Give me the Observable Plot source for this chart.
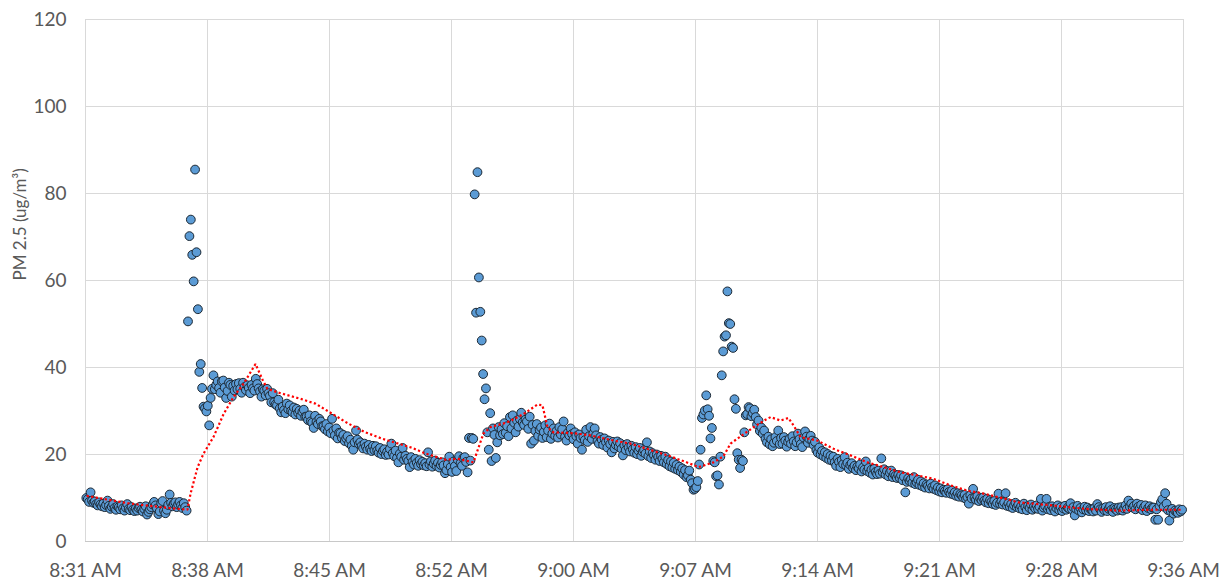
<!DOCTYPE html>
<html><head><meta charset="utf-8">
<script src="https://cdn.jsdelivr.net/npm/d3@7"></script>
<script src="https://cdn.jsdelivr.net/npm/@observablehq/plot@0.6"></script>
<style>
body{margin:0;background:#fff;}
#chart svg{display:block}
</style></head><body><div id="chart"></div>
<script>
// PM2.5 readings every 5 seconds starting at 8:31:15
const startTime = "8:31:15";
const stepSeconds = 5;
const pm25 = [
10.0, 9.7, 9.1, 11.3, 9.4, 8.9, 9.2, 8.6, 8.3, 9.0, 8.5, 8.1,
8.7, 7.9, 8.4, 9.4, 8.2, 7.5, 8.0, 8.6, 7.7, 7.3, 8.1, 7.9,
7.4, 8.3, 7.6, 7.1, 7.8, 8.6, 7.5, 7.2, 7.9, 7.3, 7.0, 7.6,
7.1, 7.7, 8.0, 7.3, 6.9, 7.5, 8.1, 6.2, 6.8, 7.4, 7.9, 8.5,
9.1, 8.3, 7.6, 6.3, 6.9, 8.8, 9.3, 7.1, 6.5, 7.3, 8.4, 10.8,
8.9, 8.1, 8.7, 9.0, 7.9, 8.5, 9.1, 8.3, 7.7, 8.8, 7.9, 7.1,
50.6, 70.2, 74.0, 65.9, 59.8, 85.5, 66.5, 53.4, 39.0, 40.8, 35.3, 31.0,
30.6, 29.9, 31.2, 26.7, 33.0, 35.1, 38.2, 35.0, 36.0, 36.8, 35.3, 34.2,
36.8, 37.0, 35.4, 33.0, 34.6, 36.5, 36.0, 33.3, 35.8, 34.7, 36.2, 35.0,
36.4, 35.1, 34.2, 36.5, 35.5, 34.8, 35.9, 35.3, 34.1, 36.0, 35.2, 34.7,
37.4, 36.2, 35.2, 34.5, 33.3, 35.0, 34.7, 33.6, 35.1, 34.1, 33.5, 32.0,
34.1, 32.0, 31.5, 31.3, 32.6, 30.6, 29.7, 31.0, 30.2, 29.5, 31.7, 30.4,
31.3, 30.0, 29.7, 30.8, 29.2, 30.5, 29.6, 30.1, 28.9, 29.8, 30.3, 28.7,
28.7, 27.9, 29.0, 27.6, 27.3, 26.1, 28.9, 27.5, 27.0, 28.2, 27.6, 26.5,
26.5, 25.8, 27.0, 25.3, 26.2, 24.9, 28.2, 25.5, 24.4, 26.0, 23.7, 25.0,
24.9, 23.8, 24.5, 23.1, 23.7, 24.2, 22.6, 23.4, 22.0, 21.1, 22.8, 25.5,
23.4, 22.4, 22.8, 22.0, 21.4, 22.5, 21.8, 21.1, 22.2, 21.3, 20.8, 22.0,
21.0, 21.9, 20.9, 20.4, 21.5, 20.1, 20.8, 21.2, 19.9, 20.6, 20.0, 21.3,
22.5, 20.3, 19.6, 20.9, 19.2, 18.2, 20.2, 19.5, 21.5, 18.8, 19.7, 19.0,
18.5, 17.1, 19.4, 18.3, 17.7, 19.0, 18.1, 17.4, 18.7, 17.8, 18.3, 17.5,
18.0, 17.3, 20.5, 17.7, 18.4, 17.2, 17.9, 18.6, 17.4, 18.1, 17.0, 17.6,
18.2, 17.5, 15.7, 16.4, 17.8, 19.5, 17.1, 16.0, 18.4, 17.3, 16.2, 18.8,
19.6, 18.0, 17.4, 19.2, 19.4, 18.3, 15.9, 23.8, 18.6, 23.8, 23.6, 79.8,
52.6, 84.9, 60.7, 52.8, 46.2, 38.5, 32.7, 35.2, 25.1, 21.1, 29.5, 18.5,
26.0, 24.5, 19.2, 22.8, 26.3, 24.4, 25.8, 24.7, 27.2, 25.0, 26.5, 24.2,
28.6, 26.0, 29.0, 27.3, 25.1, 27.8, 26.4, 28.2, 29.6, 27.4, 26.8, 28.0,
27.6, 25.9, 28.7, 22.5, 26.8, 23.2, 25.4, 27.0, 24.3, 25.7, 26.2, 23.8,
25.2, 26.7, 24.0, 25.5, 27.1, 23.6, 24.8, 26.0, 24.3, 25.4, 23.9, 26.3,
24.6, 25.8, 27.6, 24.1, 23.2, 25.0, 24.4, 26.0, 24.7, 23.5, 25.1, 24.2,
22.5, 24.6, 23.8, 21.1, 24.0, 23.3, 25.7, 22.9, 24.2, 26.3, 23.6, 24.8,
26.0, 24.4, 23.1, 22.5, 24.0, 23.4, 22.2, 23.7, 22.8, 21.6, 23.2, 22.4,
20.5, 22.9, 21.4, 22.2, 23.0, 21.8, 22.6, 21.3, 19.8, 22.1, 21.0, 22.4,
21.6, 20.7, 22.0, 21.2, 20.4, 21.7, 20.1, 20.9, 21.5, 19.7, 20.6, 21.0,
20.2, 22.8, 19.6, 20.7, 19.2, 20.3, 19.8, 18.8, 20.0, 19.4, 18.5, 19.7,
19.0, 18.2, 19.5, 17.8, 18.7, 17.3, 18.4, 17.0, 18.1, 16.7, 17.6, 16.4,
17.2, 16.0, 16.8, 15.4, 16.4, 14.8, 15.2, 16.3, 14.2, 13.4, 11.9, 12.1,
12.5, 13.9, 17.7, 21.1, 28.4, 29.2, 30.1, 33.6, 30.4, 28.9, 23.7, 26.1,
18.5, 18.2, 15.0, 15.2, 13.1, 19.5, 38.2, 43.7, 47.1, 47.4, 57.5, 50.2,
50.0, 44.8, 44.5, 32.7, 30.5, 20.3, 18.8, 16.9, 18.8, 18.5, 25.1, 29.0,
29.3, 30.9, 30.6, 28.8, 29.5, 30.3, 28.6, 26.9, 27.8, 25.4, 26.2, 24.8,
25.5, 23.6, 22.8, 24.1, 22.3, 23.5, 21.9, 22.7, 24.0, 23.1, 25.5, 22.4,
23.8, 22.5, 24.0, 23.2, 21.8, 22.9, 23.6, 22.5, 24.2, 23.0, 21.9, 22.8,
24.8, 23.5, 22.4, 21.7, 23.9, 25.3, 24.1, 22.7, 23.6, 24.3, 23.2, 22.2,
22.9, 21.0, 20.4, 21.6, 20.0, 20.8, 19.6, 20.5, 19.2, 20.1, 18.8, 19.7,
18.6, 19.5, 18.2, 17.4, 19.0, 18.3, 17.1, 18.7, 17.8, 19.4, 17.5, 18.1,
16.7, 17.6, 18.0, 16.9, 17.4, 16.4, 17.2, 16.8, 17.7, 16.1, 17.0, 16.5,
18.4, 16.2, 16.9, 15.8, 16.5, 15.4, 16.7, 16.0, 15.5, 16.3, 15.6, 19.1,
15.9, 16.6, 15.4, 16.2, 15.0, 15.8, 16.3, 14.8, 15.5, 15.1, 14.6, 15.3,
14.6, 15.2, 14.1, 14.9, 11.3, 13.7, 14.5, 13.9, 14.3, 13.5, 14.8, 13.2,
13.6, 14.2, 13.0, 13.8, 12.7, 13.4, 12.4, 13.1, 12.8, 12.2, 13.3, 12.5,
12.1, 12.9, 11.8, 12.4, 11.5, 12.2, 11.3, 11.9, 11.6, 11.2, 12.0, 11.4,
11.0, 11.7, 10.8, 11.3, 10.5, 11.1, 10.3, 10.9, 10.6, 10.1, 10.7, 9.8,
10.2, 8.7, 10.6, 9.9, 12.1, 10.0, 9.6, 10.4, 9.3, 9.9, 9.5, 10.1,
9.4, 9.0, 9.8, 8.8, 9.5, 9.1, 8.6, 9.3, 8.4, 8.9, 11.0, 8.7,
9.2, 8.5, 9.0, 11.1, 8.2, 8.8, 8.0, 8.6, 7.7, 8.3, 8.9, 7.9,
8.4, 7.6, 8.1, 7.4, 8.7, 7.9, 7.2, 8.2, 7.7, 8.5, 7.3, 8.0,
7.6, 8.3, 7.5, 8.0, 9.8, 7.1, 7.8, 8.2, 9.8, 7.4, 7.9, 7.2,
8.1, 7.5, 6.9, 7.7, 8.3, 7.2, 7.9, 7.0, 7.6, 8.2, 7.3, 7.8,
7.6, 8.8, 7.4, 7.9, 6.0, 7.5, 8.2, 7.1, 7.7, 6.7, 7.4, 8.0,
7.2, 7.8, 7.0, 7.5, 7.3, 6.9, 7.7, 7.1, 8.6, 7.9, 7.4, 6.8,
7.6, 7.2, 7.9, 7.0, 7.5, 8.1, 7.3, 6.8, 7.7, 7.4, 7.1, 7.8,
7.3, 7.9, 7.1, 7.6, 8.3, 7.5, 9.4, 8.0, 8.7, 7.8, 8.2, 7.4,
8.7, 8.0, 7.6, 8.4, 7.2, 7.9, 8.3, 7.0, 7.7, 8.1, 7.4, 7.8,
7.8, 5.0, 7.4, 5.0, 8.2, 9.0, 9.7, 8.0, 11.1, 8.7, 7.2, 4.8,
6.9, 7.5, 6.4, 7.1, 6.8, 6.6, 7.4, 6.9, 7.3
];

// Moving-average trend line (red dotted)
const trendTimes = ["8:31:16","8:33:41","8:35:38","8:37:13","8:37:24","8:37:49","8:38:10","8:38:45","8:39:21","8:39:56","8:40:31","8:41:14","8:41:39","8:41:56","8:42:32","8:43:53","8:44:46","8:45:47","8:46:43","8:47:43","8:48:44","8:49:40","8:50:30","8:51:16","8:52:27","8:53:09","8:54:06","8:54:20","8:54:41","8:55:06","8:56:06","8:57:03","8:57:53","8:58:10","8:58:28","8:58:49","9:00:00","9:01:00","9:02:22","9:03:22","9:05:33","9:06:33","9:07:23","9:08:16","9:08:51","9:09:16","9:09:44","9:10:38","9:11:20","9:11:38","9:12:13","9:12:41","9:12:59","9:13:24","9:14:24","9:15:21","9:16:21","9:17:21","9:18:18","9:19:18","9:20:18","9:21:15","9:22:15","9:23:15","9:24:12","9:25:30","9:26:16","9:28:16","9:30:13","9:32:10","9:34:10","9:35:56"];
const trendValues = [10.5,8.8,7.9,7.3,11.0,17.1,20.2,24.0,29.3,33.2,36.2,40.8,37.2,35.1,34.3,32.8,31.7,29.3,27.1,25.1,23.6,22.5,21.5,20.2,18.8,19.0,18.2,20.9,24.8,26.3,27.4,29.3,31.5,31.3,26.3,25.1,24.9,24.4,23.2,22.5,19.8,18.4,17.1,18.2,19.6,22.5,23.8,26.3,28.0,28.6,27.8,28.4,26.7,24.0,23.2,21.3,19.8,18.2,17.1,15.9,15.2,14.4,12.9,11.7,11.0,9.8,9.0,8.3,7.5,7.1,7.3,7.3];

const xTickTimes = ["8:31:12","8:38:24","8:45:36","8:52:48","9:00:00","9:07:12","9:14:24","9:21:36","9:28:48","9:36:00"];
const xTickLabels = ["8:31 AM","8:38 AM","8:45 AM","8:52 AM","9:00 AM","9:07 AM","9:14 AM","9:21 AM","9:28 AM","9:36 AM"];
const yTicks = [0, 20, 40, 60, 80, 100, 120];
const yLabel = "PM 2.5 (ug/m³)";

function toDate(s) { const [h, m, sec] = s.split(":").map(Number); return new Date(2020, 0, 1, h, m, sec || 0); }
const t0 = toDate(startTime);
const points = pm25.map((v, i) => ({time: new Date(+t0 + i * stepSeconds * 1000), value: v}));
const trend = trendTimes.map((s, i) => ({time: toDate(s), value: trendValues[i]}));
const xTicks = xTickTimes.map(toDate);
const fmtX = d => xTickLabels[xTicks.findIndex(t => +t === +d)];

const chart = Plot.plot({
  width: 1231, height: 581,
  marginLeft: 85, marginRight: 48, marginTop: 19, marginBottom: 40,
  style: {fontFamily: "Lato, 'Open Sans', sans-serif", fontSize: "19px", color: "#595959", background: "#fff"},
  x: {type: "time", domain: [xTicks[0], xTicks[xTicks.length - 1]]},
  y: {domain: [0, 120]},
  marks: [
    Plot.gridX(xTicks, {stroke: "#d9d9d9", strokeOpacity: 1, strokeWidth: 1}),
    Plot.gridY(yTicks, {stroke: "#d9d9d9", strokeOpacity: 1, strokeWidth: 1}),
    Plot.ruleY([0], {stroke: "#c8c8c8"}),
    Plot.axisX(xTicks, {tickSize: 0, tickPadding: 22, tickFormat: fmtX, label: null, fill: "#595959"}),
    Plot.axisY(yTicks, {tickSize: 0, tickPadding: 19, label: null, fill: "#595959"}),
    Plot.text([yLabel], {frameAnchor: "left", rotate: -90, dx: -65, fontSize: 17, fill: "#595959"}),
    Plot.dot(points, {x: "time", y: "value", r: 4.4, fill: "#5B9BD5", stroke: "#1c2833", strokeWidth: 1}),
    Plot.line(trend, {x: "time", y: "value", stroke: "#ff0000", strokeWidth: 2.2, strokeDasharray: "2.2 2.4", strokeLinecap: "butt", strokeLinejoin: "miter"})
  ]
});
document.getElementById("chart").appendChild(chart);
</script>
</body></html>
